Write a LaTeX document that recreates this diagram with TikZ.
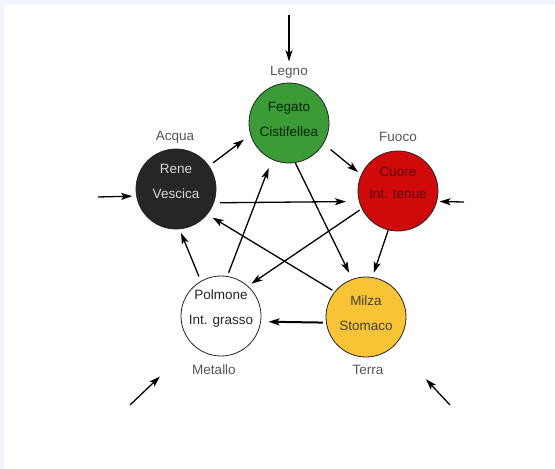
\documentclass[tikz,border=0pt]{standalone}
\usepackage{fontspec}
\setmainfont{Liberation Sans}
\usepackage{tikz}
\usetikzlibrary{arrows.meta}
\definecolor{legnogreen}{RGB}{58,155,55}
\definecolor{acquablack}{RGB}{38,38,38}
\definecolor{fuocored}{RGB}{208,10,10}
\definecolor{terrayellow}{RGB}{248,196,53}
\definecolor{framegray}{RGB}{240,246,252}
\definecolor{labelgray}{RGB}{85,85,85}

\begin{document}
\begin{tikzpicture}[x=1pt, y=-1pt, line width=.1ex,
  organ/.style={circle, draw=black!85, line width=.8pt, minimum size=80pt, inner sep=0pt},
  organtext/.style={align=center, font=\fontsize{13.5}{25}\selectfont},
  element/.style={text=labelgray, font=\fontsize{13.5}{16}\selectfont},
  flow/.style={-{Stealth[length=11pt,width=7pt,inset=2.5pt]}, line width=1.3pt}]
\useasboundingbox (0,0) rectangle (555,469);
\fill[white] (0,0) rectangle (555,469);%%
\fill[framegray] (0,0) rectangle (555,5);%%
\fill[framegray] (0,0) rectangle (4,469);%%
% the five elements
\node[organ, fill=legnogreen] (fegato) at (289,123) {};%%
\node[organtext, text=green!15!black] (fegatotxt) at (289,119) {Fegato\\Cistifellea};%%
\node[organ, fill=acquablack] (rene) at (176,189) {};%%
\node[organtext, text=black!15] (renetxt) at (176,181) {Rene\\Vescica};%%
\node[organ, fill=fuocored] (cuore) at (398,191) {};%%
\node[organtext, text=red!35!black, font=\fontsize{13.5}{22}\selectfont] (cuoretxt) at (398,183) {Cuore\\Int. tenue};%%
\node[organ, fill=white] (polmone) at (221,316) {};%%
\node[organtext, text=black!85] (polmonetxt) at (221,309) {Polmone\\Int. grasso};%%
\node[organ, fill=terrayellow] (milza) at (366,317) {};%%
\node[organtext, text=black!85!yellow] (milzatxt) at (366,313) {Milza\\Stomaco};%%
% names
\node[element] (legno) at (289,72) {Legno};%%
\node[element] (acqua) at (175,137) {Acqua};%%
\node[element] (fuoco) at (398,137) {Fuoco};%%
\node[element] (metallo) at (214,370) {Metallo};%%
\node[element] (terra) at (368,370) {Terra};%%
% cycle
\draw[flow, shorten <=5pt, shorten >=8pt] (rene.35) -- (fegato.197);%%
\draw[flow, shorten <=9pt, shorten >=4pt] (fegato.-31) -- (cuore.156);%%
\draw[flow, shorten >=4.5pt] (cuore.-104) -- (milza.81);%%
\draw[flow, line width=2pt, shorten <=3pt, shorten >=7.5pt] (milza.188) -- (polmone.-8.5);%%
\draw[flow, shorten <=5pt, shorten >=4pt] (polmone.120.5) -- (rene.-85);%%
% star
\draw[flow, shorten <=6pt, shorten >=13pt] (rene.-20) -- (cuore.195);%%
\draw[flow, shorten >=7pt] (fegato.-81.5) -- (milza.110);%%
\draw[flow, shorten <=3.6pt, shorten >=9pt] (polmone.81) -- (fegato.-115.5);%%
\draw[flow, shorten <=2.6pt, shorten >=6pt] (milza.141) -- (rene.-39);%%
\draw[flow, shorten <=2.5pt, shorten >=4pt] (cuore.206.5) -- (polmone.48.7);%%
% from outside
\coordinate (intop) at (289,15);%%
\coordinate (inleft) at (98,197);%%
\coordinate (inright) at (464,202);%%
\coordinate (inbl) at (130,405);%%
\coordinate (inbr) at (450,405);%%
\draw[flow, shorten >=1pt] (intop) -- (legno.north);%%
\draw[flow, shorten >=4pt] (inleft) -- (rene.190);%%
\draw[flow, shorten >=2.5pt] (inright) -- (cuore.-15);%%
\draw[flow, shorten >=45.6pt] (inbl) -- (polmone.226);%%
\draw[flow, shorten >=46pt] (inbr) -- (milza.-45);%%
\end{tikzpicture}
\end{document}
